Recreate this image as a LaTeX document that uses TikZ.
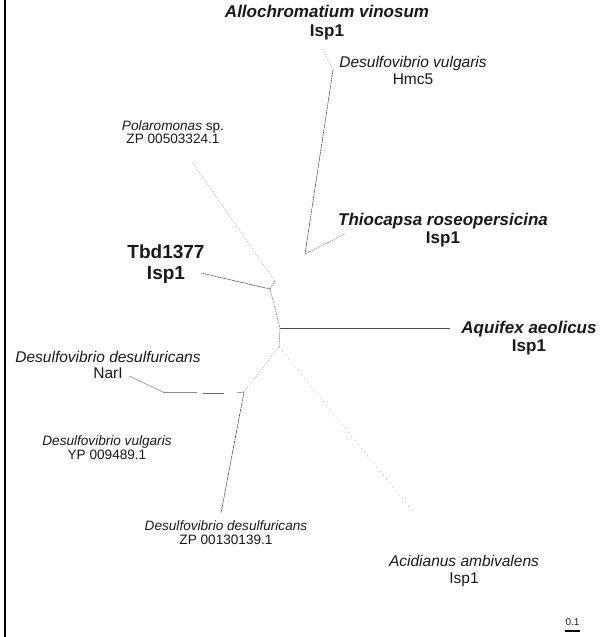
\documentclass[tikz,border=0pt]{standalone}
\usepackage{fontspec}
\setmainfont{Liberation Sans}
\begin{document}
\begin{tikzpicture}[x=1bp,y=-1bp,
  lab/.style={align=center,inner sep=0pt,text=black!90},
  bigb/.style={lab,font=\fontsize{17bp}{18.5bp}\selectfont\bfseries},
  huge/.style={lab,font=\fontsize{19bp}{21bp}\selectfont\bfseries},
  midi/.style={lab,font=\fontsize{15.5bp}{16.5bp}\selectfont},
  smalli/.style={lab,font=\fontsize{13.6bp}{13.5bp}\selectfont},
  br/.style={draw=black!55,line width=0.55bp,dash pattern=on 1.6bp off 0.9bp},
  brdark/.style={draw=black!75,line width=0.6bp,dash pattern=on 1.8bp off 0.7bp},
  brfaint/.style={draw=black!35,line width=0.5bp,dash pattern=on 1.2bp off 1.6bp},
  brsolid/.style={draw=black!70,line width=0.6bp}]
\useasboundingbox (0,0) rectangle (605,637);
\draw[line width=1.3bp] (5,0) -- (5,637);
% tree points
\coordinate (tAlv) at (323,49);
\coordinate (n1) at (333,70);
\coordinate (n2) at (305,254);
\coordinate (tThi) at (345,234);
\coordinate (tPol) at (192,162);
\coordinate (n3) at (275,281);
\coordinate (n4) at (270,289);
\coordinate (tTbd) at (201,273);
\coordinate (n5) at (280,328);
\coordinate (tAqu) at (450,328);
\coordinate (n6) at (279,347);
\coordinate (tAci) at (414,513);
\coordinate (n7) at (244,392);
\coordinate (tZP) at (221,513);
\coordinate (n8) at (163,392);
\coordinate (tNar) at (129,376);
\coordinate (g1) at (236,393);
\coordinate (g2) at (224,393);
\coordinate (g3) at (203,393);
\coordinate (g4) at (197,392);
% branches
\draw[brfaint] (n1) -- (tAlv);
\draw[brdark] (n1) -- (n2);
\draw[br] (n2) -- (tThi);
\draw[brfaint] (n3) -- (tPol);
\draw[br] (n3) -- (n4);
\draw[brdark] (n4) -- (tTbd);
\draw[br] (n4) -- (n5);
\draw[brsolid] (n5) -- (tAqu);
\draw[br] (n5) -- (n6);
\draw[brfaint] (n6) -- (n7);
\draw[brfaint,dash pattern=on 1bp off 4bp] (n6) -- (tAci);
\draw[brdark] (n7) -- (tZP);
\draw[brsolid,draw=black!50] (n7) -- (g1);
\draw[brsolid,draw=black!60] (g2) -- (g3);
\draw[brsolid,draw=black!45] (g4) -- (n8);
\draw[brsolid,draw=black!45] (n8) -- (tNar);
% labels
\node[bigb] (lAlv) at (327,22.5) {\textit{Allochromatium vinosum}\\Isp1};
\node[midi] (lHmc) at (413,70.5) {\textit{Desulfovibrio vulgaris}\\Hmc5};
\node[smalli] (lPol) at (173,132) {\textit{Polaromonas} sp.\\ZP 00503324.1};
\node[bigb] (lThi) at (443,230) {\textit{Thiocapsa roseopersicina}\\Isp1};
\node[huge] (lTbd) at (166,264.5) {Tbd1377\\Isp1};
\node[bigb] (lAqu) at (529,338) {\textit{Aquifex aeolicus}\\Isp1};
\node[midi] (lNar) at (108,365) {\textit{Desulfovibrio desulfuricans}\\NarI};
\node[smalli] (lYP) at (107,447.5) {\textit{Desulfovibrio vulgaris}\\YP 009489.1};
\node[smalli] (lZP) at (226,532.5) {\textit{Desulfovibrio desulfuricans}\\ZP 00130139.1};
\node[midi] (lAci) at (464,571) {\textit{Acidianus ambivalens}\\Isp1};
% scale bar
\coordinate (s1) at (565,631);
\coordinate (s2) at (580,631);
\draw[line width=2bp] (s1) -- (s2);
\node[lab,font=\fontsize{10bp}{11bp}\selectfont] (lsc) at (572.5,622) {0.1};
\end{tikzpicture}
\end{document}
